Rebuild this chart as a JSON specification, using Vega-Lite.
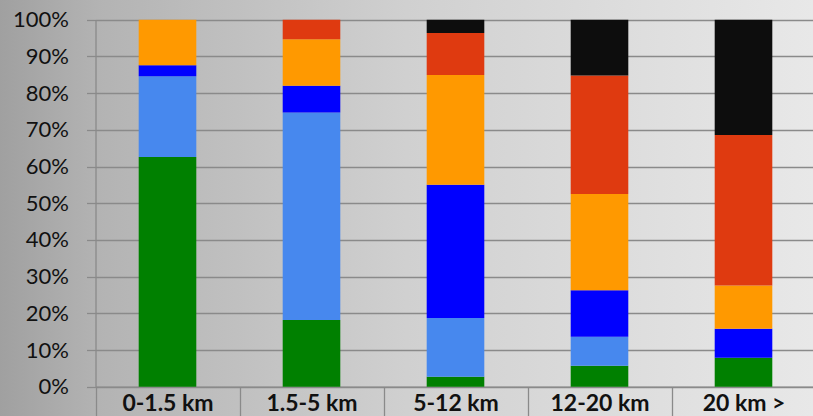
{
  "$schema": "https://vega.github.io/schema/vega-lite/v6.json",
  "width": 813,
  "height": 416,
  "autosize": {"type": "none"},
  "padding": 0,
  "background": "#b0b0b0",
  "config": {
    "view": {
      "stroke": null,
      "fill": {
        "gradient": "linear",
        "x1": 0, "y1": 0, "x2": 1, "y2": 0,
        "stops": [
          {"offset": 0, "color": "#a0a0a0"},
          {"offset": 0.12, "color": "#b3b3b3"},
          {"offset": 0.5, "color": "#d0d0d0"},
          {"offset": 1, "color": "#e8e8e8"}
        ]
      }
    },
    "axis": {"labelFont": "Lato", "labelColor": "#111111"}
  },
  "data": {
    "values": [
      {"distance": "0-1.5 km", "mode": "A", "share": 62.6},
      {"distance": "0-1.5 km", "mode": "B", "share": 22.0},
      {"distance": "0-1.5 km", "mode": "C", "share": 3.0},
      {"distance": "0-1.5 km", "mode": "D", "share": 12.4},
      {"distance": "1.5-5 km", "mode": "A", "share": 18.2},
      {"distance": "1.5-5 km", "mode": "B", "share": 56.5},
      {"distance": "1.5-5 km", "mode": "C", "share": 7.3},
      {"distance": "1.5-5 km", "mode": "D", "share": 12.7},
      {"distance": "1.5-5 km", "mode": "E", "share": 5.3},
      {"distance": "5-12 km", "mode": "A", "share": 2.7},
      {"distance": "5-12 km", "mode": "B", "share": 16.0},
      {"distance": "5-12 km", "mode": "C", "share": 36.3},
      {"distance": "5-12 km", "mode": "D", "share": 29.9},
      {"distance": "5-12 km", "mode": "E", "share": 11.5},
      {"distance": "5-12 km", "mode": "F", "share": 3.6},
      {"distance": "12-20 km", "mode": "A", "share": 5.7},
      {"distance": "12-20 km", "mode": "B", "share": 7.9},
      {"distance": "12-20 km", "mode": "C", "share": 12.7},
      {"distance": "12-20 km", "mode": "D", "share": 26.2},
      {"distance": "12-20 km", "mode": "E", "share": 32.3},
      {"distance": "12-20 km", "mode": "F", "share": 15.2},
      {"distance": "20 km >", "mode": "A", "share": 7.9},
      {"distance": "20 km >", "mode": "C", "share": 7.9},
      {"distance": "20 km >", "mode": "D", "share": 11.8},
      {"distance": "20 km >", "mode": "E", "share": 41.0},
      {"distance": "20 km >", "mode": "F", "share": 31.4}
    ]
  },
  "mark": {"type": "bar", "width": {"band": 0.4}},
  "encoding": {
    "x": {
      "field": "distance",
      "type": "nominal",
      "sort": ["0-1.5 km", "1.5-5 km", "5-12 km", "12-20 km", "20 km >"],
      "scale": {"range": [95.5, 815.5], "paddingInner": 0, "paddingOuter": 0},
      "axis": {
        "title": null,
        "orient": "bottom",
        "offset": -29.3,
        "labelAngle": 0,
        "labelFontSize": 23,
        "labelFontWeight": "bold",
        "labelPadding": -24.5,
        "tickBand": "extent",
        "tickSize": 30,
        "tickColor": "#8a8a8a",
        "tickWidth": 1.3,
        "domainColor": "#8a8a8a",
        "domainWidth": 1.3,
        "grid": false
      }
    },
    "y": {
      "field": "share",
      "type": "quantitative",
      "stack": "normalize",
      "scale": {"domain": [0, 1], "range": [386.7, 19.7], "nice": false},
      "axis": {
        "title": null,
        "orient": "left",
        "offset": -95.5,
        "format": ".0%",
        "values": [0, 0.1, 0.2, 0.3, 0.4, 0.5, 0.6, 0.7, 0.8, 0.9, 1],
        "labelFontSize": 22,
        "labelPadding": 18,
        "tickSize": 9,
        "tickColor": "#8a8a8a",
        "tickWidth": 1.3,
        "gridColor": "#8a8a8a",
        "gridWidth": 1.3,
        "domainColor": "#8a8a8a",
        "domainWidth": 1.3
      }
    },
    "color": {
      "field": "mode",
      "type": "nominal",
      "scale": {
        "domain": ["A", "B", "C", "D", "E", "F"],
        "range": ["#008000", "#4788EE", "#0000FF", "#FF9900", "#DF3A10", "#0D0D0D"]
      },
      "legend": null
    },
    "order": {"field": "mode", "type": "nominal", "sort": "ascending"}
  }
}
